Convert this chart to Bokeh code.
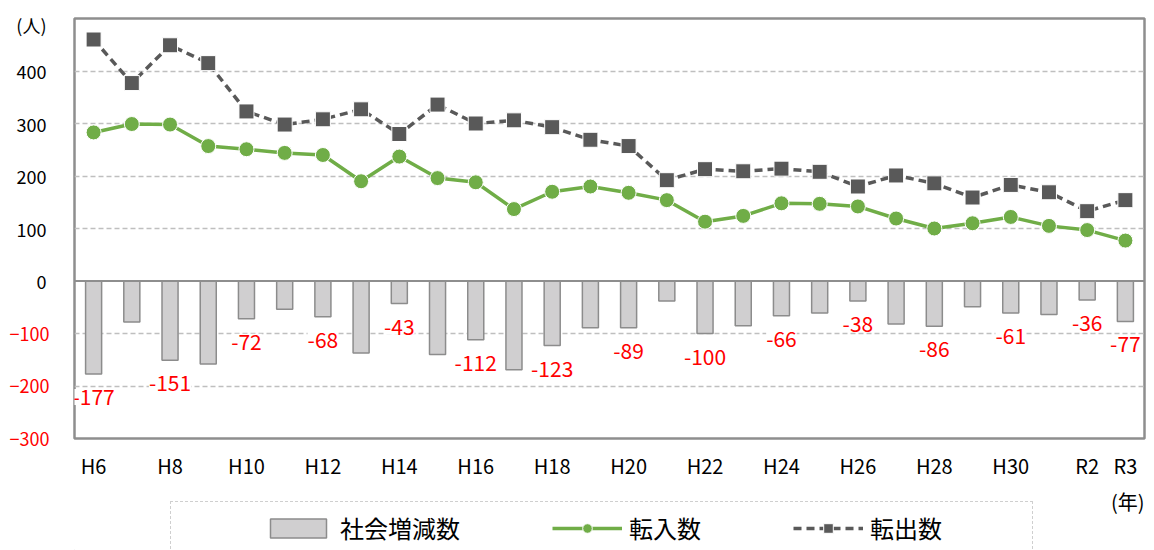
from bokeh.plotting import figure
from bokeh.layouts import column
from bokeh.models import (ColumnDataSource, FactorRange, Range1d, FixedTicker, LinearAxis,
                          Span, Label, LabelSet, Legend, LegendItem, CustomJSTickFormatter)
from bokeh.core.properties import value
from bokeh.embed import file_html
from bokeh.resources import INLINE

# ---------------- data ----------------
categories = ["H6", "H7", "H8", "H9", "H10", "H11", "H12", "H13", "H14", "H15",
              "H16", "H17", "H18", "H19", "H20", "H21", "H22", "H23", "H24", "H25",
              "H26", "H27", "H28", "H29", "H30", "R1", "R2", "R3"]
x_tick_labels = ["H6", "", "H8", "", "H10", "", "H12", "", "H14", "", "H16", "", "H18", "",
                 "H20", "", "H22", "", "H24", "", "H26", "", "H28", "", "H30", "", "R2", "R3"]
tennyu = [283, 299, 298, 257, 251, 244, 240, 190, 237, 196, 188, 137, 170, 180,
          168, 154, 113, 124, 148, 147, 142, 119, 100, 110, 122, 105, 97, 77]
tenshutsu = [460, 377, 449, 415, 323, 298, 308, 327, 280, 336, 300, 306, 293, 269,
             257, 192, 213, 209, 214, 208, 180, 201, 186, 159, 183, 169, 133, 154]
shakai = [-177, -78, -151, -158, -72, -54, -68, -137, -43, -140, -112, -169, -123, -89,
          -89, -38, -100, -85, -66, -61, -38, -82, -86, -49, -61, -64, -36, -77]
y_pos_ticks = [0, 100, 200, 300, 400]
y_neg_ticks = [-300, -200, -100]
grid_ticks = [-200, -100, 100, 200, 300, 400]
y_unit = "(人)"
x_unit = "(年)"
y_unit_pos = 488
series_names = ["社会増減数", "転入数", "転出数"]

FONT = "Noto Sans CJK JP"
C_BAR, C_BAR_LINE = "#d0cfd0", "#8c8c8c"
C_IN, C_OUT = "#70ad47", "#595959"
OUT_DASH = "8 5"

src = ColumnDataSource(dict(cat=categories, inn=tennyu, out=tenshutsu, soc=shakai))
lab_idx = [i for i, t in enumerate(x_tick_labels) if t]
lab_src = ColumnDataSource(dict(cat=[categories[i] for i in lab_idx],
                                soc=[shakai[i] for i in lab_idx],
                                txt=[str(shakai[i]) for i in lab_idx]))

P_H = 488
# ---------------- main chart ----------------
p = figure(width=1154, height=P_H, x_range=FactorRange(*categories, range_padding=0),
           y_range=Range1d(-300, 500), output_backend="svg", toolbar_location=None,
           min_border_left=74, min_border_right=10, min_border_top=18,
           min_border_bottom=P_H - 438)
p.background_fill_color = "white"
p.border_fill_color = "white"
p.outline_line_color = "#8e8e8e"
p.outline_line_width = 2.5

p.xgrid.visible = False
p.ygrid.ticker = FixedTicker(ticks=grid_ticks)
p.ygrid.grid_line_color = "#bfbfbf"
p.ygrid.grid_line_dash = "5 3"
p.ygrid.grid_line_width = 1.5

xa = p.xaxis[0]
xa.axis_line_color = None
xa.major_tick_line_color = None
xa.minor_tick_line_color = None
xa.formatter = CustomJSTickFormatter(args=dict(cats=categories, labs=x_tick_labels), code="""
    const i = cats.indexOf(tick);
    return i >= 0 ? labs[i] : tick;
""")
xa.major_label_text_font = FONT
xa.major_label_text_font_size = "20px"
xa.major_label_text_color = "black"
xa.major_label_standoff = 6

ya = p.yaxis[0]
ya.ticker = FixedTicker(ticks=y_pos_ticks + [y_unit_pos])
ya.major_label_overrides = {y_unit_pos: y_unit}
ya.axis_line_color = None
ya.major_tick_line_color = None
ya.minor_tick_line_color = None
ya.major_label_text_font = FONT
ya.major_label_text_font_size = "18px"
ya.major_label_text_color = "black"
ya.major_label_standoff = 22

yb = LinearAxis(ticker=FixedTicker(ticks=y_neg_ticks))
yb.axis_line_color = None
yb.major_tick_line_color = None
yb.minor_tick_line_color = None
yb.major_label_text_font = FONT
yb.major_label_text_font_size = "18px"
yb.major_label_text_color = "#ff0000"
yb.major_label_standoff = -42
p.add_layout(yb, "left")

p.vbar(x="cat", top="soc", bottom=0, width=0.42, source=src,
       fill_color=C_BAR, line_color=C_BAR_LINE, line_width=1.5)
p.add_layout(Span(location=0, dimension="width", line_color="#8e8e8e", line_width=2))
p.line(x="cat", y="inn", source=src, line_color=C_IN, line_width=3.5)
p.scatter(x="cat", y="inn", source=src, marker="circle", size=15,
          fill_color=C_IN, line_color="white", line_width=1)
p.line(x="cat", y="out", source=src, line_color=C_OUT, line_width=3.5, line_dash=OUT_DASH)
p.scatter(x="cat", y="out", source=src, marker="square", size=15,
          fill_color=C_OUT, line_color="white", line_width=1)

p.add_layout(LabelSet(x="cat", y="soc", text="txt", source=lab_src, y_offset=-23,
                      text_align="center", text_baseline="middle",
                      text_font=value(FONT), text_font_size=value("21px"),
                      text_color="#ff0000", background_fill_color="white"))

# ---------------- legend strip ----------------
Q_H = 550 - P_H
q = figure(width=1154, height=Q_H, x_range=Range1d(0, 1), y_range=Range1d(0, 1),
           x_axis_type=None, y_axis_type=None, output_backend="svg", toolbar_location=None,
           min_border_left=74, min_border_right=10, min_border_top=0, min_border_bottom=0)
q.outline_line_color = None
q.background_fill_color = "white"
q.border_fill_color = "white"
q.grid.visible = False
off = ColumnDataSource(dict(x=[-5.0], y=[-5.0]))  # outside the visible range
r_bar = q.vbar(x="x", top="y", width=0.5, source=off,
               fill_color=C_BAR, line_color=C_BAR_LINE, line_width=1.5)
r_in_l = q.line(x="x", y="y", source=off, line_color=C_IN, line_width=3.5)
r_in_m = q.scatter(x="x", y="y", source=off, marker="circle", size=15,
                   fill_color=C_IN, line_color="white", line_width=1)
r_out_l = q.line(x="x", y="y", source=off, line_color=C_OUT, line_width=3.5,
                 line_dash=OUT_DASH)
r_out_m = q.scatter(x="x", y="y", source=off, marker="square", size=15,
                    fill_color=C_OUT, line_color="white", line_width=1)

legend = Legend(items=[LegendItem(label=series_names[0], renderers=[r_bar]),
                       LegendItem(label=series_names[1], renderers=[r_in_l, r_in_m]),
                       LegendItem(label=series_names[2], renderers=[r_out_l, r_out_m])],
                orientation="horizontal", location=(96, -4))
try:
    legend.padding = dict(top=8, right=90, bottom=8, left=92)
except Exception:
    legend.padding = 8
legend.spacing = 92
legend.glyph_width = 70
legend.glyph_height = 24
legend.label_standoff = 7
legend.label_text_font = FONT
legend.label_text_font_size = "24px"
legend.label_text_color = "black"
legend.border_line_color = "#a0a0a0"
legend.border_line_dash = "2 2"
legend.border_line_width = 1.5
legend.background_fill_color = "white"
legend.background_fill_alpha = 1
legend.margin = 0
q.add_layout(legend, "center")

q.add_layout(Label(x=1070, y=49, x_units="screen", y_units="screen", text=x_unit,
                   text_font=FONT, text_font_size="20px", text_align="right",
                   text_baseline="middle", text_color="black"))

layout = column(p, q, spacing=0)
open("out.html", "w").write(file_html(layout, INLINE))
